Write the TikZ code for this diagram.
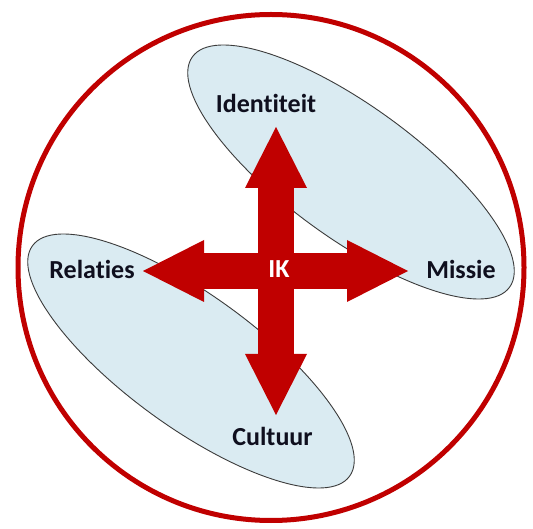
\documentclass[tikz,border=0pt]{standalone}
\usepackage{fontspec}
\setmainfont{Carlito}[Ligatures=NoCommon]
\usetikzlibrary{positioning, shapes.geometric, arrows.meta}
\definecolor{ikred}{RGB}{192, 0, 0}
\definecolor{zoneblue}{RGB}{218, 235, 242}
\definecolor{zoneline}{RGB}{60, 60, 60}
\definecolor{textnavy}{RGB}{15, 15, 30}
\tikzset{
    % Shape Styles
    ring/.style={draw=ikred, line width=5pt},
    zone/.style={
        ellipse, draw=zoneline, line width=0.9pt, fill=zoneblue,
        minimum width=392pt, minimum height=132pt, rotate=-36
    },
    % Text Styles
    lbl/.style={font=\bfseries\fontsize{26}{31}\selectfont, text=textnavy, inner sep=2pt},
    core/.style={lbl, text=white},
    % Arrow Styles
    main_arrow/.style={
        {Triangle[width=62pt, length=61pt, line width=0pt]}-{Triangle[width=62pt, length=61pt, line width=0pt]},
        line width=36pt, color=ikred
    }
}

\begin{document}
\begin{tikzpicture}[x=1pt, y=1pt]

    \useasboundingbox (0,0) rectangle (533,528);
    \fill [white] (0,0) rectangle (533,528);

    % --- 1. Zones ---
    \node [zone] (zone_top) at (351,356) {};
    \node [zone] (zone_bottom) at (191,167) {};

    % --- 2. Outer ring ---
    \node [ring, circle, minimum size=506pt, inner sep=0pt] (ring) at (271,260.5) {};

    % --- 3. Labels ---
    \node [lbl] (identiteit) at (266,425) {Identiteit};
    \node [lbl] (relaties) at (92,259) {Relaties};
    \node [lbl] (missie) at (461,259) {Missie};
    \node [lbl] (cultuur) at (272.5,92) {Cultuur};

    % --- 4. Cross of arrows ---
    \coordinate (tip_w) at (143,257);
    \coordinate (tip_e) at (408,257);
    \coordinate (tip_n) at (276,401);
    \coordinate (tip_s) at (276,113);
    \draw [main_arrow] (tip_w) -- (tip_e);
    \draw [main_arrow] (tip_n) -- (tip_s);

    \node [core] (ik) at (279,259) {IK};

\end{tikzpicture}
\end{document}
